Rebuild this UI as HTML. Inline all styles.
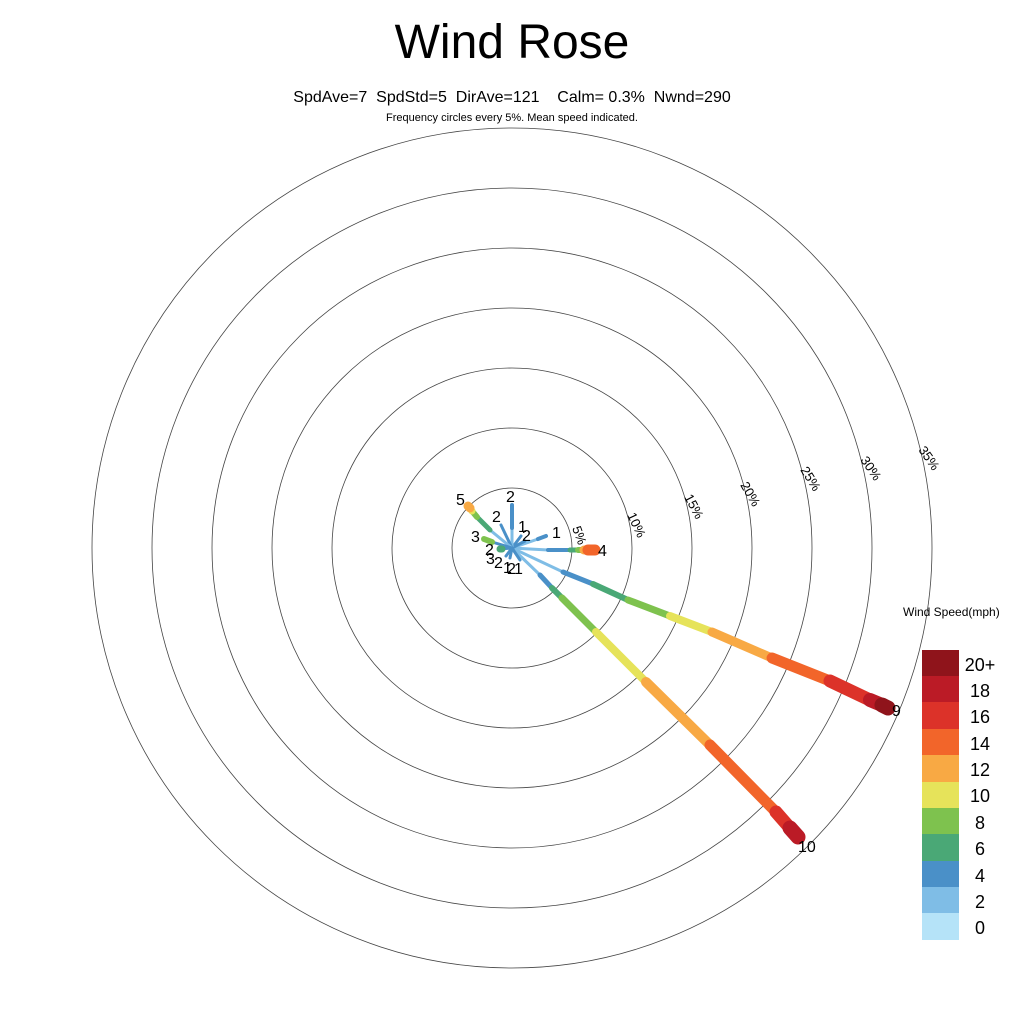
<!DOCTYPE html>
<html><head><style>
body{margin:0;background:#fff;width:1024px;height:1024px;overflow:hidden;font-family:"Liberation Sans",sans-serif}
text{white-space:pre}
</style></head><body>
<svg width="1024" height="1024" xmlns="http://www.w3.org/2000/svg" font-family="Liberation Sans, sans-serif">
<text x="512" y="58" font-size="48" text-anchor="middle">Wind Rose</text>
<text x="512" y="102" font-size="16" text-anchor="middle" xml:space="preserve">SpdAve=7  SpdStd=5  DirAve=121    Calm= 0.3%  Nwnd=290</text>
<text x="512" y="121" font-size="11" text-anchor="middle">Frequency circles every 5%. Mean speed indicated.</text>
<g fill="none" stroke="#444" stroke-width="0.8">
<circle cx="512" cy="548" r="60"/><circle cx="512" cy="548" r="120"/><circle cx="512" cy="548" r="180"/>
<circle cx="512" cy="548" r="240"/><circle cx="512" cy="548" r="300"/><circle cx="512" cy="548" r="360"/><circle cx="512" cy="548" r="420"/>
</g>
<g font-size="13">
<text x="572" y="528" transform="rotate(70 572 528)">5%</text>
<text x="627" y="515" transform="rotate(65 627 515)">10%</text>
<text x="684" y="497" transform="rotate(62 684 497)">15%</text>
<text x="740" y="485" transform="rotate(60 740 485)">20%</text>
<text x="800" y="470" transform="rotate(58 800 470)">25%</text>
<text x="860" y="460" transform="rotate(56 860 460)">30%</text>
<text x="918" y="450" transform="rotate(55 918 450)">35%</text>
</g>
<g stroke-linecap="round" fill="none">
<line x1="512" y1="548" x2="563" y2="572" stroke="#7fbde6" stroke-width="3"/>
<line x1="563" y1="572" x2="593" y2="584" stroke="#4a90c8" stroke-width="5"/>
<line x1="593" y1="584" x2="628" y2="600" stroke="#4aa876" stroke-width="6"/>
<line x1="628" y1="600" x2="670" y2="616" stroke="#7ec24e" stroke-width="7"/>
<line x1="670" y1="616" x2="712" y2="632" stroke="#e6e35a" stroke-width="8"/>
<line x1="712" y1="632" x2="772" y2="658" stroke="#f8a944" stroke-width="9"/>
<line x1="772" y1="658" x2="830" y2="681" stroke="#f2652a" stroke-width="11"/>
<line x1="830" y1="681" x2="870" y2="700" stroke="#dc3229" stroke-width="13"/>
<line x1="870" y1="700" x2="882" y2="705" stroke="#bb1b26" stroke-width="14"/>
<line x1="882" y1="705" x2="888" y2="708" stroke="#8f141b" stroke-width="15"/>
<line x1="512" y1="548" x2="540" y2="575" stroke="#7fbde6" stroke-width="3"/>
<line x1="540" y1="575" x2="552" y2="588" stroke="#4a90c8" stroke-width="5"/>
<line x1="552" y1="588" x2="562" y2="598" stroke="#4aa876" stroke-width="6"/>
<line x1="562" y1="598" x2="596" y2="632" stroke="#7ec24e" stroke-width="7"/>
<line x1="596" y1="632" x2="646" y2="682" stroke="#e6e35a" stroke-width="8"/>
<line x1="646" y1="682" x2="710" y2="745" stroke="#f8a944" stroke-width="10"/>
<line x1="710" y1="745" x2="776" y2="812" stroke="#f2652a" stroke-width="11"/>
<line x1="776" y1="812" x2="790" y2="828" stroke="#dc3229" stroke-width="13"/>
<line x1="790" y1="828" x2="798" y2="837" stroke="#bb1b26" stroke-width="15"/>
<line x1="512" y1="548" x2="548" y2="550" stroke="#7fbde6" stroke-width="3"/>
<line x1="548" y1="550" x2="570" y2="550" stroke="#4a90c8" stroke-width="4"/>
<line x1="570" y1="550" x2="578" y2="550" stroke="#4aa876" stroke-width="5"/>
<line x1="578" y1="550" x2="584" y2="550" stroke="#7ec24e" stroke-width="6"/>
<line x1="584" y1="550" x2="588" y2="550" stroke="#f8a944" stroke-width="9"/>
<line x1="588" y1="550" x2="595" y2="550" stroke="#f2652a" stroke-width="11"/>
<line x1="512" y1="548" x2="538" y2="539" stroke="#7fbde6" stroke-width="3"/>
<line x1="538" y1="539" x2="546" y2="536" stroke="#4a90c8" stroke-width="4"/>
<line x1="512" y1="548" x2="521" y2="536" stroke="#4a90c8" stroke-width="3"/>
<line x1="512" y1="548" x2="525" y2="541" stroke="#4a90c8" stroke-width="3"/>
<line x1="512" y1="548" x2="512" y2="528" stroke="#7fbde6" stroke-width="3"/>
<line x1="512" y1="528" x2="512" y2="505" stroke="#4a90c8" stroke-width="4"/>
<line x1="512" y1="548" x2="501" y2="525" stroke="#4a90c8" stroke-width="3"/>
<line x1="512" y1="548" x2="490" y2="530" stroke="#7fbde6" stroke-width="3"/>
<line x1="490" y1="530" x2="477" y2="517" stroke="#4aa876" stroke-width="5"/>
<line x1="477" y1="517" x2="472" y2="511" stroke="#7ec24e" stroke-width="6"/>
<line x1="472" y1="511" x2="470" y2="508" stroke="#e6e35a" stroke-width="7"/>
<line x1="470" y1="508" x2="468" y2="506" stroke="#f8a944" stroke-width="9"/>
<line x1="512" y1="548" x2="492" y2="542" stroke="#4a90c8" stroke-width="3"/>
<line x1="492" y1="542" x2="484" y2="539" stroke="#7ec24e" stroke-width="6"/>
<line x1="512" y1="548" x2="500" y2="549" stroke="#4a90c8" stroke-width="3"/>
<line x1="500" y1="549" x2="502" y2="549" stroke="#4aa876" stroke-width="7"/>
<line x1="512" y1="548" x2="506" y2="556" stroke="#4a90c8" stroke-width="3"/>
<line x1="512" y1="548" x2="510" y2="558" stroke="#4a90c8" stroke-width="3"/>
<line x1="512" y1="548" x2="520" y2="560" stroke="#4a90c8" stroke-width="3"/>
</g>
<g font-size="16">
<text x="506" y="502">2</text>
<text x="492" y="522">2</text>
<text x="456" y="505">5</text>
<text x="471" y="542">3</text>
<text x="518" y="532">1</text>
<text x="522" y="541">2</text>
<text x="552" y="538">1</text>
<text x="598" y="556">4</text>
<text x="485" y="555">2</text>
<text x="486" y="564">3</text>
<text x="494" y="568">2</text>
<text x="503" y="573">1</text>
<text x="507" y="574">2</text>
<text x="514" y="574">1</text>
<text x="892" y="716">9</text>
<text x="798" y="852">10</text>
</g>
<text x="903" y="616" font-size="12">Wind Speed(mph)</text>
<g>
<rect x="922" y="650" width="37" height="27" fill="#8f141b"/>
<rect x="922" y="676" width="37" height="27" fill="#bb1b26"/>
<rect x="922" y="702" width="37" height="27" fill="#dc3229"/>
<rect x="922" y="729" width="37" height="27" fill="#f2652a"/>
<rect x="922" y="755" width="37" height="27" fill="#f8a944"/>
<rect x="922" y="782" width="37" height="27" fill="#e6e35a"/>
<rect x="922" y="808" width="37" height="27" fill="#7ec24e"/>
<rect x="922" y="834" width="37" height="27" fill="#4aa876"/>
<rect x="922" y="861" width="37" height="27" fill="#4a90c8"/>
<rect x="922" y="887" width="37" height="27" fill="#7fbde6"/>
<rect x="922" y="913" width="37" height="27" fill="#b5e3f8"/>
</g>
<g font-size="18" text-anchor="middle">
<text x="980" y="671">20+</text>
<text x="980" y="697">18</text>
<text x="980" y="723">16</text>
<text x="980" y="750">14</text>
<text x="980" y="776">12</text>
<text x="980" y="802">10</text>
<text x="980" y="829">8</text>
<text x="980" y="855">6</text>
<text x="980" y="882">4</text>
<text x="980" y="908">2</text>
<text x="980" y="934">0</text>
</g>
</svg>
</body></html>
